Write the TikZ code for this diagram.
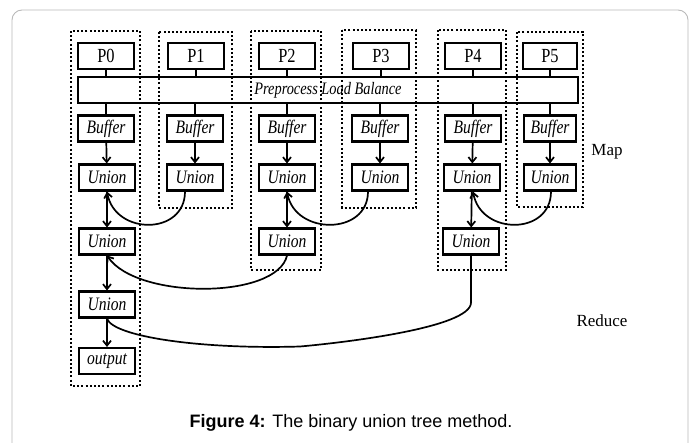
\documentclass[tikz,border=0pt]{standalone}
\usepackage{fontspec}
\setmainfont{Liberation Serif}
\newfontfamily\cond[FakeStretch=0.82]{Liberation Serif}
\newfontfamily\capfont{Liberation Sans}
\usetikzlibrary{arrows.meta}
\begin{document}
\begin{tikzpicture}[x=1pt,y=-1pt,
  box/.style={draw,line width=2.1pt,minimum width=56pt,minimum height=26pt,inner sep=0pt,
    font=\cond\fontsize{19}{20}\selectfont\itshape},
  pbox/.style={box,font=\cond\fontsize{20}{21}\selectfont},
  dotbox/.style={line width=2pt,dash pattern=on 2pt off 2.2pt},
  conn/.style={line width=1.7pt},
  arr/.style={conn,-{Straight Barb[length=5pt,width=8pt]}},
  lab/.style={font=\fontsize{17}{18}\selectfont},
]
\useasboundingbox (0,0) rectangle (693,442);
\begin{scope}
\clip (0,0) rectangle (693,442);
\draw[gray!55,line width=0.9pt,rounded corners=10pt] (12,10) rectangle (688,470);
\end{scope}

% P boxes
\node[pbox] (p0) at (106,56) {P0};
\node[pbox] (p1) at (196,56) {P1};
\node[pbox] (p2) at (287,56) {P2};
\node[pbox] (p3) at (381,56) {P3};
\node[pbox] (p4) at (473,56) {P4};
\node[pbox,minimum width=54pt] (p5) at (550,56) {P5};

% preprocess
\node[draw,line width=2.1pt,minimum width=500pt,minimum height=26pt,inner sep=0pt,
  font=\cond\fontsize{17.5}{18}\selectfont\itshape] (pre) at (328,90) {Preprocess Load Balance};

% buffers
\node[box] (b0) at (106,128.5) {Buffer};
\node[box] (b1) at (195,128.5) {Buffer};
\node[box] (b2) at (287,128.5) {Buffer};
\node[box] (b3) at (380,128.5) {Buffer};
\node[box] (b4) at (473,128.5) {Buffer};
\node[box,minimum width=52pt] (b5) at (550,128.5) {Buffer};

% unions row 1
\node[box] (u0a) at (107,177.5) {Union};
\node[box] (u1a) at (195,177.5) {Union};
\node[box] (u2a) at (287,177.5) {Union};
\node[box] (u3a) at (380,177.5) {Union};
\node[box] (u4a) at (472,177.5) {Union};
\node[box,minimum width=52pt] (u5a) at (550,177.5) {Union};

% unions row 2
\node[box] (u0b) at (107,241.5) {Union};
\node[box] (u2b) at (287,241.5) {Union};
\node[box] (u4b) at (471,241.5) {Union};

% union row 3 and output
\node[box] (u0c) at (107,304.5) {Union};
\node[box] (out) at (107,361) {output};

% labels
\node[lab] (map) at (607,152) {Map};
\node[lab] (red) at (602,321) {Reduce};
\node[font=\capfont\fontsize{18}{20}\selectfont] (cap) at (351,423)
  {\textbf{Figure 4:} The binary union tree method.};

% P to preprocess, preprocess to buffer
\foreach \i in {0,...,5}{
  \draw[conn] (p\i) -- (p\i |- pre.north);
  \draw[conn] (b\i |- pre.south) -- (b\i);
  \draw[arr] (b\i) -- (u\i a);
}

% vertical arrows
\draw[arr] (u0a) -- (u0b);
\draw[arr] (u2a) -- (u2b);
\draw[arr] (u4a) -- (u4b);
\draw[arr] (u0b) -- (u0c);
\draw[arr] (u0c) -- (out);

% merging curves
\draw[arr] ([xshift=-10pt]u1a.south) .. controls +(0,44) and +(8,44) .. (u0a.south);
\draw[arr] ([xshift=-12pt]u3a.south) .. controls +(0,44) and +(8,44) .. (u2a.south);
\draw[arr] ([xshift=1pt]u5a.south) .. controls +(0,44) and +(8,44) .. ([xshift=1pt]u4a.south);
\draw[arr] (u2b.south) .. controls +(-10,44) and +(30,44) .. (u0b.south);
\draw[conn] (u4b.south) -- ++(0,47) .. controls +(0,25) and +(45,-4) .. (300,346.5)
   .. controls +(-100,3) and +(6,18) .. (u0c.south);

% dotted column frames
\draw[dotbox] (71,31) rectangle (140,386);
\draw[dotbox] (159,32) rectangle (232,208);
\draw[dotbox] (251,31) rectangle (321,270);
\draw[dotbox] (342,30) rectangle (416,208);
\draw[dotbox] (438,30) rectangle (506,270);
\draw[dotbox] (517,32) rectangle (583,207);
\end{tikzpicture}
\end{document}
